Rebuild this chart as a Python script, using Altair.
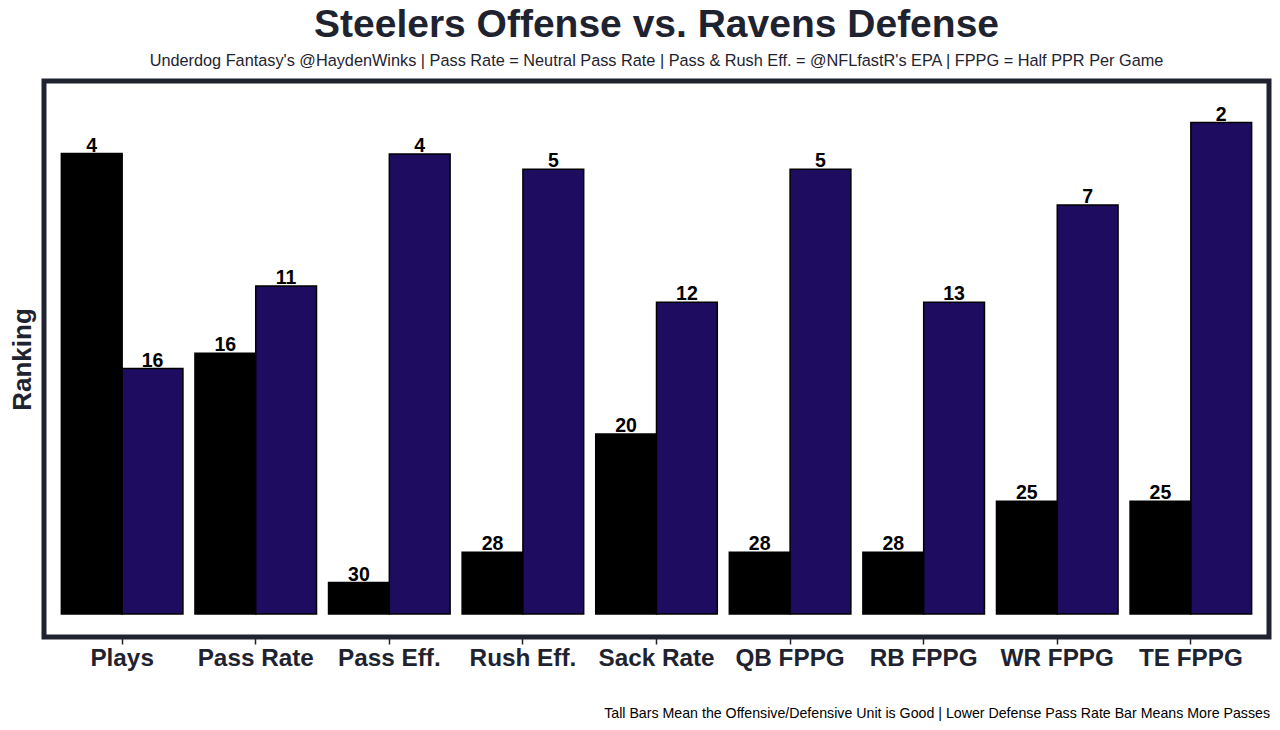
import altair as alt
import pandas as pd

categories = ["Plays", "Pass Rate", "Pass Eff.", "Rush Eff.", "Sack Rate",
              "QB FPPG", "RB FPPG", "WR FPPG", "TE FPPG"]
offense_rank = [4, 16, 30, 28, 20, 28, 28, 25, 25]
defense_rank = [16, 11, 4, 5, 12, 5, 13, 7, 2]
# bar heights (ranking units, taller = better)
offense_height = [27.9, 15.8, 1.9, 3.74, 10.9, 3.74, 3.74, 6.83, 6.83]
defense_height = [14.87, 19.88, 27.88, 26.95, 18.89, 26.95, 18.89, 24.79, 29.78]

sides = ["Offense", "Defense"]
colors = ["#000000", "#1d0c5f"]

rows = []
for i, c in enumerate(categories):
    rows.append({"cat": c, "side": "Offense", "h": offense_height[i], "rank": offense_rank[i]})
    rows.append({"cat": c, "side": "Defense", "h": defense_height[i], "rank": defense_rank[i]})
df = pd.DataFrame(rows)

FONT = "Liberation Sans"
DARK = "#1f2330"

x_enc = alt.X("cat:N", sort=categories,
              scale=alt.Scale(paddingInner=0.09, paddingOuter=0.13),
              axis=alt.Axis(title=None, labelAngle=0, domain=False, ticks=True,
                            tickSize=7, tickWidth=1.5, tickColor=DARK,
                            labelFont=FONT, labelFontSize=24.3, labelFontWeight="bold",
                            labelColor=DARK, labelPadding=2))
y_enc = alt.Y("h:Q", scale=alt.Scale(domain=[-1.4, 32.3], nice=False, zero=False),
              axis=alt.Axis(title="Ranking", labels=False, ticks=False, domain=False,
                            grid=False, titleFont=FONT, titleFontSize=26,
                            titleFontWeight="bold", titleColor=DARK,
                            titleX=-22, titleY=278, titleAngle=-90,
                            titleBaseline="middle", titleAlign="center"))
xo = alt.XOffset("side:N", sort=sides, scale=alt.Scale(paddingInner=0, paddingOuter=0))
col = alt.Color("side:N", scale=alt.Scale(domain=sides, range=colors), legend=None)

base = alt.Chart(df)

bars = base.mark_bar(stroke="#000000", strokeWidth=1.5).encode(
    x=x_enc, xOffset=xo, y=y_enc, y2=alt.datum(0), color=col
)

labels = base.mark_text(font=FONT, fontSize=19.5, fontWeight="bold", color="#000000",
                        baseline="alphabetic", dy=-2).encode(
    x=alt.X("cat:N", sort=categories), xOffset=xo, y="h:Q", text="rank:N"
)

footer_df = pd.DataFrame({"t": ["Tall Bars Mean the Offensive/Defensive Unit is Good | Lower Defense Pass Rate Bar Means More Passes"]})
footer = alt.Chart(footer_df).mark_text(font=FONT, fontSize=14.2, color="#000000",
                                        align="right", baseline="middle").encode(
    x=alt.value(1226), y=alt.value(633), text="t:N"
)

chart = alt.layer(bars, labels, footer).properties(
    width=1225, height=556,
    padding={"left": 36, "top": 73, "right": 3, "bottom": 84},
    autosize=alt.AutoSizeParams(type="none"),
    background="white",
    title=alt.TitleParams(
        text="Steelers Offense vs. Ravens Defense",
        subtitle="Underdog Fantasy's @HaydenWinks | Pass Rate = Neutral Pass Rate | Pass & Rush Eff. = @NFLfastR's EPA | FPPG = Half PPR Per Game",
        font=FONT, fontSize=39, fontWeight="bold", color=DARK,
        subtitleFont=FONT, subtitleFontSize=16.3, subtitleColor=DARK,
        anchor="middle", offset=12, subtitlePadding=8
    )
).configure_view(stroke=DARK, strokeWidth=5)

chart.save("out.html", embed_options={"renderer": "svg", "actions": False})
